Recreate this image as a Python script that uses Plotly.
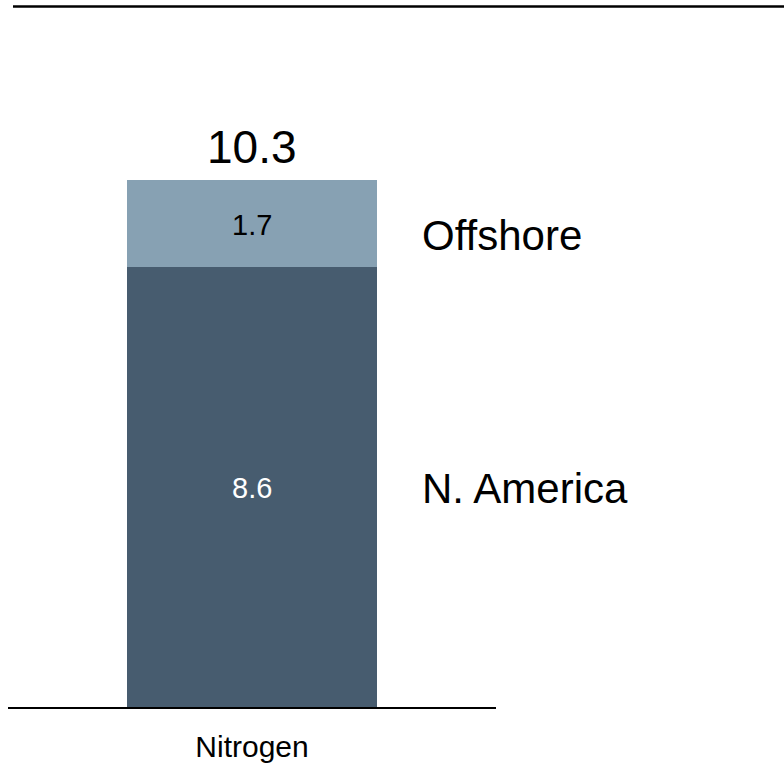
import plotly.graph_objects as go

# Stacked bar data
categories = ["Nitrogen"]
segments = ["N. America", "Offshore"]
na_values = [8.6]
offshore_values = [1.7]
totals = [round(a + b, 1) for a, b in zip(na_values, offshore_values)]

colors = {"N. America": "#475C6F", "Offshore": "#87A1B3"}
text_colors = {"N. America": "white", "Offshore": "black"}
FONT = "Liberation Sans, Arial, sans-serif"

fig = go.Figure()
bases = [0, na_values[0]]
for name, vals, base in zip(segments, [na_values, offshore_values], bases):
    fig.add_trace(go.Bar(
        x=categories, y=vals, name=name,
        marker=dict(color=colors[name], line=dict(width=0)),
        width=0.512, hoverinfo="skip",
    ))
    # value label centred in its segment
    for c, v in zip(categories, vals):
        fig.add_annotation(x=c, y=base + v / 2, text=f"{v:.1f}", showarrow=False,
                           yshift=-1,
                           font=dict(family=FONT, size=29, color=text_colors[name]))

# Total above the stack
for c, t in zip(categories, totals):
    fig.add_annotation(x=c, y=t, text=f"{t:.1f}", showarrow=False,
                       yanchor="bottom", yshift=5,
                       font=dict(family=FONT, size=46, color="black"))

# Segment labels to the right of the bar
for name, vals, base, shift in zip(segments, [na_values, offshore_values], bases, [-1, -12]):
    fig.add_annotation(x=0.845, xref="paper", y=base + vals[0] / 2, yref="y",
                       text=name, showarrow=False, xanchor="left", yshift=shift,
                       font=dict(family=FONT, size=42, color="black"))

# Rule across the top
fig.add_shape(type="line", xref="paper", yref="paper",
              x0=(13 - 8) / 488, x1=(784 - 8) / 488, y0=1.0195, y1=1.0195,
              line=dict(color="black", width=2.5))

fig.update_layout(
    barmode="stack", width=784, height=764,
    margin=dict(l=8, r=288, t=20, b=57),
    paper_bgcolor="white", plot_bgcolor="white",
    showlegend=False,
    font=dict(family=FONT, color="black"),
)
fig.update_xaxes(showline=True, linecolor="black", linewidth=1.5, automargin=False,
                 ticks="", tickfont=dict(family=FONT, size=30, color="black"),
                 ticklabelstandoff=12, showgrid=False, zeroline=False)
fig.update_yaxes(range=[0, 13.43], visible=False, showgrid=False, zeroline=False,
                 automargin=False)

fig.write_html("out.html")
